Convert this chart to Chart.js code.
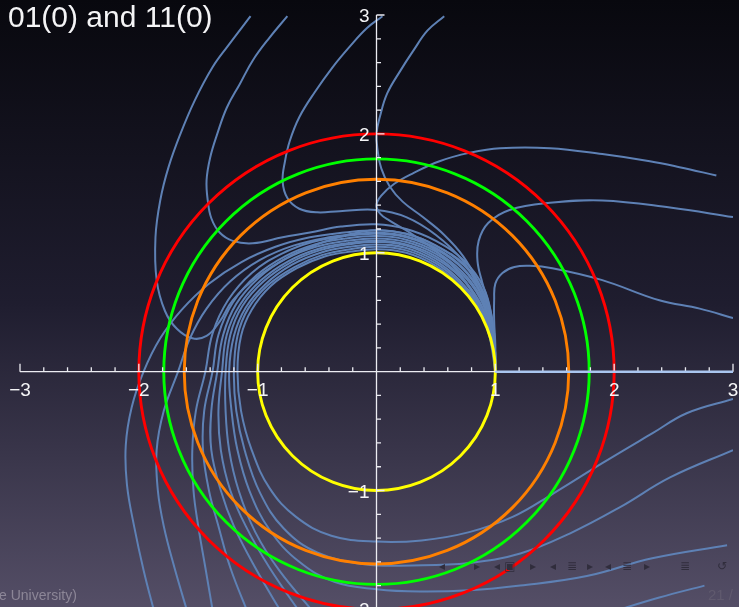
<!DOCTYPE html>
<html>
<head>
<meta charset="utf-8">
<style>
  html, body { margin: 0; padding: 0; background: #08080e; }
  #wrap { position: relative; width: 739px; height: 607px; overflow: hidden; }
  canvas { display: block; }
</style>
<script src="https://cdn.jsdelivr.net/npm/chart.js@4/dist/chart.umd.min.js"></script>
</head>
<body>
<div id="wrap"><canvas id="c" width="739" height="607"></canvas></div>
<script>
// ---- trajectories, as [x, y] pairs in plot units ----
// entering from the top edge, looping down the left and into (1, 0)
const topFar = [[-1.06,2.99],[-1.25,2.74],[-1.38,2.56],[-1.53,2.28],[-1.65,2.0],[-1.75,1.72],[-1.82,1.44],[-1.86,1.13],[-1.85,0.77],[-1.78,0.51],[-1.68,0.36],[-1.55,0.28],[-1.43,0.3],[-1.32,0.42],[-1.21,0.6],[-1.0,0.8],[-0.75,0.96],[-0.5,1.07],[-0.25,1.15],[0,1.19],[0.25,1.16],[0.5,1.06],[0.74,0.9],[0.89,0.69],[0.965,0.45],[0.995,0.22],[1,0]];
const topMid = [[-0.75,2.99],[-0.9,2.81],[-1.04,2.62],[-1.15,2.42],[-1.26,2.22],[-1.34,2.0],[-1.4,1.8],[-1.43,1.61],[-1.42,1.44],[-1.39,1.29],[-1.32,1.17],[-1.21,1.1],[-1.04,1.08],[-0.79,1.13],[-0.56,1.17],[-0.3,1.22],[0,1.24],[0.25,1.2],[0.5,1.1],[0.74,0.93],[0.9,0.71],[0.97,0.46],[0.995,0.22],[1,0]];
const topNear = [[0.05,2.99],[-0.08,2.89],[-0.22,2.74],[-0.37,2.56],[-0.52,2.35],[-0.65,2.14],[-0.73,1.94],[-0.77,1.77],[-0.79,1.6],[-0.75,1.46],[-0.65,1.37],[-0.5,1.34],[-0.31,1.35],[0,1.36],[0.25,1.3],[0.5,1.15],[0.72,0.94],[0.86,0.7],[0.94,0.45],[0.985,0.22],[1,0]];
const topRight = [[0.57,2.99],[0.43,2.87],[0.31,2.7],[0.2,2.53],[0.09,2.34],[0.03,2.15],[0,2.0],[0.01,1.86],[0.04,1.71],[0.11,1.56],[0.22,1.43],[0.39,1.3],[0.57,1.15],[0.73,0.97],[0.85,0.76],[0.94,0.52],[0.985,0.26],[1,0]];

// entering from the right, above the axis
const rightHigh = [[2.86,1.65],[2.55,1.72],[2.3,1.77],[1.9,1.83],[1.46,1.88],[1.04,1.88],[0.78,1.84],[0.53,1.77],[0.31,1.67],[0.15,1.58],[0.04,1.48],[0,1.4],[0.03,1.33],[0.11,1.27],[0.28,1.17],[0.52,1.0],[0.72,0.8],[0.86,0.56],[0.95,0.3],[1,0]];
const rightMid = [[3.0,1.3],[2.47,1.38],[1.9,1.44],[1.46,1.42],[1.12,1.36],[0.94,1.25],[0.86,1.1],[0.85,0.93],[0.89,0.75],[0.95,0.55],[0.99,0.32],[1,0]];
const rightLow = [[3.0,0.45],[2.72,0.53],[2.38,0.6],[1.9,0.77],[1.48,0.87],[1.29,0.89],[1.16,0.88],[1.06,0.83],[1.0,0.74],[0.99,0.6],[0.99,0.43],[1.0,0.22],[1,0]];

// entering from the right, below the axis, wrapping round clockwise
const wrapInner = [[3.0,-0.23],[2.61,-0.35],[2.32,-0.52],[1.9,-0.77],[1.48,-1.03],[1.15,-1.22],[0.78,-1.35],[0.38,-1.42],[0,-1.43],[-0.38,-1.38],[-0.68,-1.22],[-0.9,-0.98],[-1.05,-0.66],[-1.14,-0.33],[-1.17,0],[-1.14,0.3],[-1.05,0.52],[-0.89,0.72],[-0.67,0.87],[-0.43,0.97],[-0.21,1.01],[0,1.03],[0.25,1.0],[0.5,0.89],[0.7,0.73],[0.84,0.55],[0.93,0.37],[0.98,0.19],[1,0]];
const wrapMid = [[3.0,-0.66],[2.47,-0.89],[2.05,-1.14],[1.63,-1.36],[1.21,-1.53],[0.78,-1.61],[0.3,-1.63],[-0.1,-1.62],[-0.5,-1.52],[-0.78,-1.32],[-0.98,-1.02],[-1.11,-0.66],[-1.18,-0.33],[-1.2,0],[-1.17,0.3],[-1.08,0.53],[-0.91,0.73],[-0.69,0.88],[-0.46,0.98],[-0.22,1.03],[0,1.05],[0.25,1.02],[0.5,0.91],[0.7,0.75],[0.85,0.56],[0.94,0.37],[0.985,0.19],[1,0]];
const wrapOuter = [[2.95,-1.46],[2.32,-1.57],[1.77,-1.72],[1.21,-1.8],[0.78,-1.84],[0.36,-1.85],[0,-1.83],[-0.35,-1.77],[-0.65,-1.6],[-0.9,-1.33],[-1.07,-1.0],[-1.17,-0.66],[-1.22,-0.33],[-1.24,0],[-1.2,0.3],[-1.1,0.54],[-0.93,0.74],[-0.71,0.9],[-0.47,1.0],[-0.23,1.05],[0,1.07],[0.25,1.04],[0.5,0.93],[0.7,0.77],[0.85,0.58],[0.94,0.38],[0.985,0.19],[1,0]];
const belowRight = [[2.76,-1.8],[2.38,-1.9],[1.95,-2.03]];

// entering from the bottom edge and climbing the left side
const bottom1 = [[-0.5,-2.06],[-0.82,-1.67],[-1.02,-1.35],[-1.16,-1.0],[-1.24,-0.66],[-1.27,-0.33],[-1.27,0],[-1.23,0.31],[-1.13,0.55],[-0.95,0.76],[-0.72,0.92],[-0.48,1.02],[-0.24,1.07],[0,1.09],[0.25,1.06],[0.5,0.95],[0.71,0.79],[0.86,0.59],[0.945,0.39],[0.99,0.19],[1,0]];
const bottom2 = [[-0.62,-2.06],[-0.9,-1.65],[-1.1,-1.3],[-1.23,-1.0],[-1.31,-0.66],[-1.33,-0.33],[-1.3,0],[-1.26,0.31],[-1.15,0.56],[-0.97,0.77],[-0.74,0.93],[-0.5,1.03],[-0.25,1.08],[0,1.1],[0.25,1.07],[0.5,0.97],[0.71,0.8],[0.86,0.6],[0.95,0.39],[0.99,0.19],[1,0]];
const bottom3 = [[-0.78,-2.06],[-1.02,-1.65],[-1.2,-1.3],[-1.31,-1.0],[-1.39,-0.66],[-1.39,-0.33],[-1.34,0],[-1.29,0.31],[-1.18,0.57],[-0.99,0.79],[-0.76,0.95],[-0.51,1.05],[-0.25,1.1],[0,1.12],[0.25,1.09],[0.5,0.99],[0.72,0.82],[0.87,0.62],[0.95,0.4],[0.99,0.2],[1,0]];
const bottom4 = [[-1.07,-2.06],[-1.23,-1.65],[-1.33,-1.3],[-1.41,-1.0],[-1.46,-0.66],[-1.45,-0.33],[-1.38,0],[-1.33,0.31],[-1.21,0.58],[-1.01,0.81],[-0.77,0.97],[-0.52,1.07],[-0.26,1.12],[0,1.14],[0.25,1.11],[0.5,1.01],[0.72,0.84],[0.87,0.64],[0.955,0.41],[0.99,0.2],[1,0]];
const bottom5 = [[-1.37,-2.06],[-1.44,-1.65],[-1.5,-1.3],[-1.54,-1.0],[-1.55,-0.66],[-1.52,-0.33],[-1.44,0],[-1.38,0.32],[-1.25,0.6],[-1.05,0.83],[-0.8,0.99],[-0.54,1.09],[-0.27,1.14],[0,1.16],[0.25,1.13],[0.5,1.03],[0.73,0.86],[0.88,0.65],[0.96,0.42],[0.995,0.2],[1,0]];
const bottom6 = [[-1.58,-2.06],[-1.7,-1.65],[-1.79,-1.3],[-1.84,-1.0],[-1.85,-0.66],[-1.79,-0.33],[-1.67,0],[-1.57,0.28],[-1.43,0.53],[-1.23,0.76],[-0.98,0.94],[-0.7,1.06],[-0.4,1.13],[-0.15,1.16],[0,1.17],[0.25,1.14],[0.5,1.04],[0.73,0.87],[0.88,0.66],[0.96,0.43],[0.995,0.21],[1,0]];
const bottom7 = [[-1.86,-2.06],[-1.96,-1.67],[-2.04,-1.3],[-2.1,-0.95],[-2.11,-0.62],[-2.06,-0.3],[-1.96,0],[-1.82,0.28],[-1.64,0.52],[-1.41,0.74],[-1.14,0.92],[-0.85,1.05],[-0.56,1.13],[-0.27,1.17],[0,1.19],[0.25,1.16],[0.5,1.06],[0.74,0.89],[0.89,0.68],[0.96,0.44],[0.995,0.21],[1,0]];

// invariant ray along the positive x axis
const axisRay = [[1,0],[3,0]];

// reference circles (radius) and their colours
const circleRadii = [1.0, 1.618, 1.79, 2.0];
const circleColors = ['#ffff00', '#ff8000', '#00ff00', '#ff0000'];

// axes
const xRange = [-3, 3];
const yRange = [-1.98, 3];
const xTickValues = [-3, -2, -1, 1, 2, 3];
const xTickLabels = ['\u22123', '\u22122', '\u22121', '1', '2', '3'];
const yTickValues = [-2, -1, 1, 2, 3];
const yTickLabels = ['\u22122', '\u22121', '1', '2', '3'];
const minorStep = 0.2;

// slide text
const titleText = '01(0) and 11(0)';
const footerLeft = 'e University)';
const footerRight = '21 /';
const navGlyphs = ['\u25C2','\u25B8','\u25C2','\u25A3','\u25B8','\u25C2','\u2263','\u25B8','\u25C2','\u2263','\u25B8','\u2263','\u21BA'];
const navX = [442, 477, 497, 510, 533, 553, 572, 590, 608, 627, 647, 685, 722];

const trajectories = [topFar, topMid, topNear, topRight, rightHigh, rightMid, rightLow,
  wrapInner, wrapMid, wrapOuter, belowRight,
  bottom1, bottom2, bottom3, bottom4, bottom5, bottom6, bottom7];

const toPoints = arr => arr.map(([x, y]) => ({ x, y }));
const FONT = '"Liberation Sans", Arial, Helvetica, sans-serif';

function drawCircles(chart) {
  const { ctx, scales: { x, y } } = chart;
  const cx = x.getPixelForValue(0), cy = y.getPixelForValue(0);
  ctx.save();
  ctx.beginPath();
  ctx.rect(chart.chartArea.left - 2, chart.chartArea.top - 2, chart.chartArea.width + 4, chart.chartArea.height + 4);
  ctx.clip();
  circleRadii.forEach((r, i) => {
    const rx = x.getPixelForValue(r) - cx;
    const ry = cy - y.getPixelForValue(r);
    ctx.beginPath();
    ctx.ellipse(cx, cy, rx, ry, 0, 0, Math.PI * 2);
    ctx.strokeStyle = circleColors[i];
    ctx.lineWidth = 2.9;
    ctx.stroke();
  });
  ctx.restore();
}

function drawAxes(chart) {
  const { ctx, scales: { x, y } } = chart;
  const x0 = x.getPixelForValue(0), y0 = y.getPixelForValue(0);
  ctx.save();
  ctx.strokeStyle = '#ececf2';
  ctx.lineWidth = 1.3;
  ctx.beginPath();
  ctx.moveTo(x.getPixelForValue(xRange[0]), y0);
  ctx.lineTo(x.getPixelForValue(xRange[1]), y0);
  ctx.moveTo(x0, y.getPixelForValue(3));
  ctx.lineTo(x0, y.getPixelForValue(yRange[0]));
  const nx = Math.round((xRange[1] - xRange[0]) / minorStep);
  for (let i = 0; i <= nx; i++) {
    const v = xRange[0] + i * minorStep;
    const px = x.getPixelForValue(v);
    const len = (i % 5 === 0) ? 8 : 4.5;
    ctx.moveTo(px, y0);
    ctx.lineTo(px, y0 - len);
  }
  const ny = Math.round((3 - (-2)) / minorStep);
  for (let i = 0; i <= ny; i++) {
    const v = -2 + i * minorStep;
    const py = y.getPixelForValue(v);
    const len = (i % 5 === 0) ? 8 : 4.5;
    ctx.moveTo(x0, py);
    ctx.lineTo(x0 + len, py);
  }
  ctx.stroke();
  ctx.restore();
}

function drawLabels(chart) {
  const { ctx, scales: { x, y } } = chart;
  const x0 = x.getPixelForValue(0), y0 = y.getPixelForValue(0);
  ctx.save();
  ctx.fillStyle = '#f4f4f6';
  ctx.font = '19px ' + FONT;
  ctx.textBaseline = 'alphabetic';
  ctx.textAlign = 'center';
  xTickValues.forEach((v, i) => {
    ctx.fillText(xTickLabels[i], x.getPixelForValue(v), y0 + 24);
  });
  ctx.textAlign = 'right';
  yTickValues.forEach((v, i) => {
    ctx.fillText(yTickLabels[i], x0 - 7, y.getPixelForValue(v) + 7);
  });
  ctx.restore();
}

function drawSlideText(chart) {
  const { ctx } = chart;
  ctx.save();
  ctx.textBaseline = 'alphabetic';
  ctx.textAlign = 'left';
  ctx.fillStyle = '#f4f4f6';
  ctx.font = '30px ' + FONT;
  ctx.fillText(titleText, 8, 27);
  ctx.font = '14px ' + FONT;
  ctx.fillStyle = 'rgba(150,145,160,0.85)';
  ctx.fillText(footerLeft, -1, 600);
  ctx.fillStyle = '#605a6e';
  ctx.font = '15px ' + FONT;
  ctx.fillText(footerRight, 708, 600);
  ctx.fillStyle = '#302d3c';
  ctx.font = '12px "DejaVu Sans", sans-serif';
  ctx.textAlign = 'center';
  navGlyphs.forEach((g, i) => ctx.fillText(g, navX[i], 570));
  ctx.restore();
}

const slideDecor = {
  id: 'slideDecor',
  beforeDraw(chart) {
    const { ctx, width, height } = chart;
    const g = ctx.createLinearGradient(0, 0, 0, height);
    g.addColorStop(0, '#08080e');
    g.addColorStop(0.5, '#1f1d2f');
    g.addColorStop(1, '#544e66');
    ctx.save();
    ctx.fillStyle = g;
    ctx.fillRect(0, 0, width, height);
    ctx.restore();
  },
  beforeDatasetDraw(chart, args) {
    if (chart.data.datasets[args.index].label === 'ray') {
      drawCircles(chart);
      drawAxes(chart);
    }
  },
  afterDatasetsDraw(chart) {
    drawLabels(chart);
    drawSlideText(chart);
  }
};

const curveStyle = {
  showLine: true,
  borderColor: '#5e81b5',
  borderWidth: 2,
  pointRadius: 0,
  tension: 0.4,
  fill: false
};

const datasets = [
  { label: 'ray', data: toPoints(axisRay), showLine: true, borderColor: '#a9c5ef',
    borderWidth: 2.5, pointRadius: 0, tension: 0, order: -1 },
  ...trajectories.map(t => Object.assign({ data: toPoints(t) }, curveStyle))
];

new Chart(document.getElementById('c'), {
  type: 'scatter',
  data: { datasets },
  options: {
    responsive: false,
    animation: false,
    devicePixelRatio: 1,
    events: [],
    layout: { padding: { left: 20, right: 6, top: 15, bottom: 0 } },
    elements: { line: { capBezierPoints: false } },
    scales: {
      x: { type: 'linear', min: xRange[0], max: xRange[1], display: false },
      y: { type: 'linear', min: yRange[0], max: yRange[1], display: false }
    },
    plugins: { legend: { display: false }, tooltip: { enabled: false } }
  },
  plugins: [slideDecor]
});
</script>
</body>
</html>
